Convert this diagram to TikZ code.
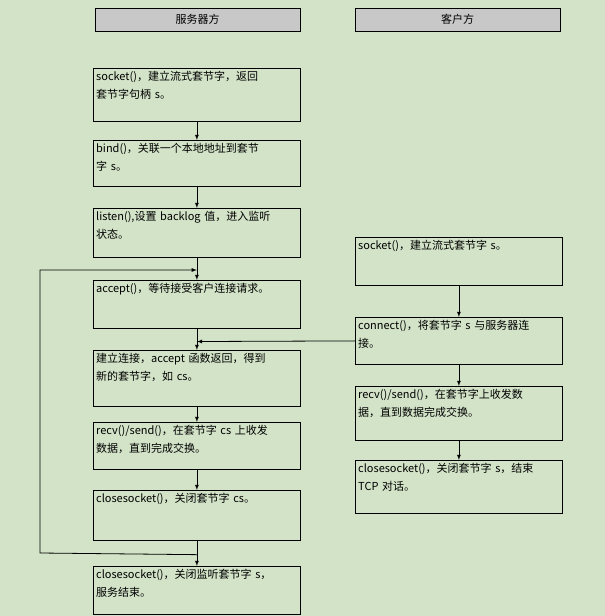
\documentclass[tikz,border=0pt]{standalone}
\usepackage{fontspec}
\setmainfont{Liberation Serif}
\newfontfamily\cjk{Noto Sans CJK SC}
\usetikzlibrary{positioning,calc}
\definecolor{bg_green}{HTML}{D3E3C8}
\definecolor{head_gray}{HTML}{C8C8C8}
\tikzset{
  box/.style={draw,thick,minimum width=#1,minimum height=0pt,inner sep=0pt,anchor=north west},
  txt/.style={anchor=north west,align=left,text width=205pt,inner sep=3pt,font=\cjk\fontsize{11}{18}\selectfont},
  head/.style={draw,fill=head_gray,minimum width=205pt,minimum height=23pt,anchor=north west,font=\cjk\fontsize{11}{13}\selectfont},
}
\newcommand{\stepbox}[5]{% name, x, y, height, text
  \node[box=207pt,minimum height=#4pt] (#1) at (#2,#3) {};
  \node[txt] at (#1.north west) {#5};
}
\begin{document}
\begin{tikzpicture}[x=1pt,y=-1pt,>=latex]
  \fill[bg_green] (0,0) rectangle (605,616);
  \useasboundingbox (0,0) rectangle (605,616);

  \node[head] (hs) at (95,8) {服务器方};
  \node[head] (hc) at (355,8) {客户方};

  % serveur
  \stepbox{s1}{93}{68}{53}{socket()，建立流式套节字，返回\\套节字句柄 s。}
  \stepbox{s2}{93}{140}{46}{bind()，关联一个本地地址到套节\\字 s。}
  \stepbox{s3}{93}{208}{49}{listen(),设置 backlog 值，进入监听\\状态。}
  \stepbox{s4}{93}{280}{48}{accept()，等待接受客户连接请求。}
  \stepbox{s5}{93}{350}{56}{建立连接，accept 函数返回，得到\\新的套节字，如 cs。}
  \stepbox{s6}{93}{422}{47}{recv()/send()，在套节字 cs 上收发\\数据，直到完成交换。}
  \stepbox{s7}{93}{490}{50}{closesocket()，关闭套节字 cs。}
  \stepbox{s8}{93}{566}{48}{closesocket()，关闭监听套节字 s，\\服务结束。}

  % client
  \stepbox{c1}{355}{237}{48}{socket()，建立流式套节字 s。}
  \stepbox{c2}{355}{317}{47}{connect()，将套节字 s 与服务器连\\接。}
  \stepbox{c3}{355}{386}{54}{recv()/send()，在套节字上收发数\\据，直到数据完成交换。}
  \stepbox{c4}{355}{460}{53}{closesocket()，关闭套节字 s，结束\\TCP 对话。}

  \foreach \a/\b in {s1/s2,s2/s3,s3/s4,s4/s5,s5/s6,s6/s7,s7/s8,c1/c2,c2/c3,c3/c4}
    \draw[->,thick] (\a) -- (\b);

  \coordinate (loopin) at ($(s3.south)!0.55!(s4.north)$);
  \coordinate (loopout) at ($(s7.south)!0.55!(s8.north)$);
  \coordinate (join) at ($(s4.south)!0.6!(s5.north)$);
  \draw[->,thick] (loopout) -- (40,553) -- (40,270) -- (loopin);
  \draw[->,thick] (c2.west) -- (join);
\end{tikzpicture}
\end{document}
